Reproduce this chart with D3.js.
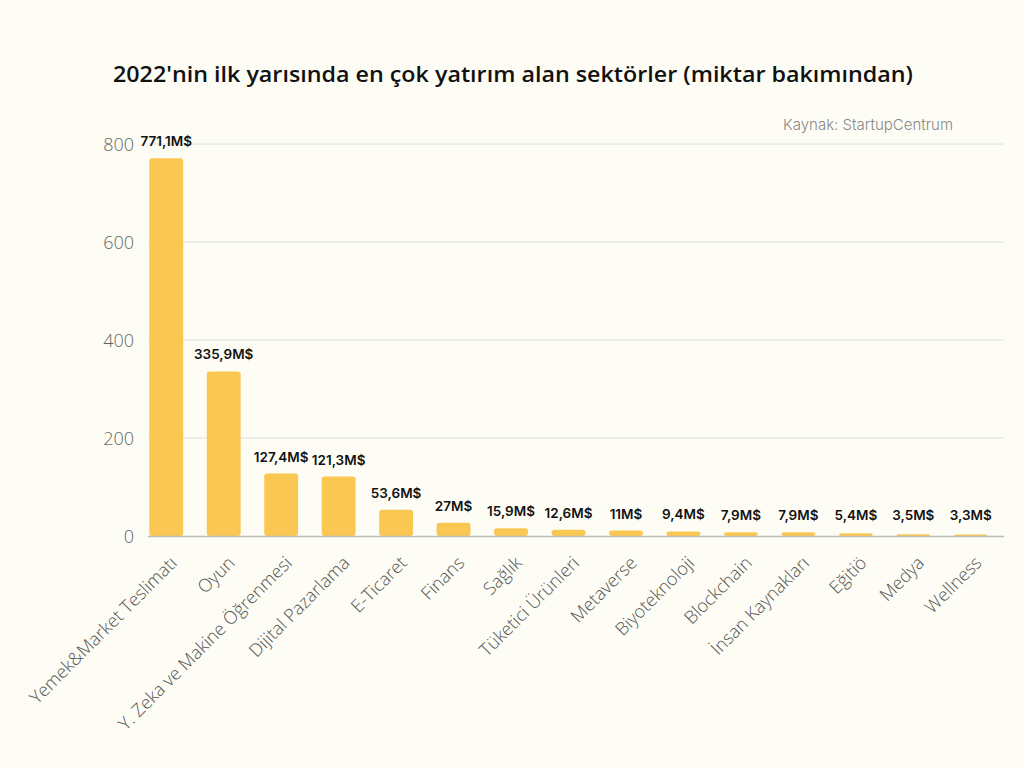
<!DOCTYPE html>
<html><head><meta charset="utf-8">
<script src="https://cdn.jsdelivr.net/npm/d3@7"></script>
<style>
html,body{margin:0;padding:0;background:#FDFDF5;}
svg{display:block;}
</style></head>
<body>
<svg id="chart" width="1024" height="768"></svg>
<script>
const categories = ["Yemek&Market Teslimatı","Oyun","Y. Zeka ve Makine Öğrenmesi","Dijital Pazarlama","E-Ticaret","Finans","Sağlık","Tüketici Ürünleri","Metaverse","Biyoteknoloji","Blockchain","İnsan Kaynakları","Eğitiö","Medya","Wellness"];
const values = [771.1,335.9,127.4,121.3,53.6,27,15.9,12.6,11,9.4,7.9,7.9,5.4,3.5,3.3];
const valueLabels = ["771,1M$","335,9M$","127,4M$","121,3M$","53,6M$","27M$","15,9M$","12,6M$","11M$","9,4M$","7,9M$","7,9M$","5,4M$","3,5M$","3,3M$"];
const yTicks = [0,200,400,600,800];
const title = "2022'nin ilk yarısında en çok yatırım alan sektörler (miktar bakımından)";
const source = "Kaynak: StartupCentrum";

const svg = d3.select("#chart");
const W = 1024, H = 768;
svg.append("rect").attr("width",W).attr("height",H).attr("fill","#FDFDF5");

const x = d3.scaleBand().domain(categories).range([137.5, 999.5]).paddingInner(0.41).paddingOuter(0.205);
const y = d3.scaleLinear().domain([0,800]).range([536,144]);

// gridlines
svg.append("g").selectAll("line").data(yTicks.filter(d=>d>0)).join("line")
  .attr("x1",148).attr("x2",1004)
  .attr("y1",d=>y(d)).attr("y2",d=>y(d))
  .attr("stroke","#dedede").attr("stroke-width",1);

// y axis labels
const yAxis = d3.axisLeft(y).tickValues(yTicks).tickSize(0).tickPadding(0).tickFormat(d3.format("d"));
const gy = svg.append("g").attr("transform","translate(134,0)").call(yAxis);
gy.select(".domain").remove();
gy.selectAll("text").attr("font-family","'Open Sans', sans-serif").attr("font-weight",300)
  .attr("font-size",18).attr("fill","#666").attr("dy","0.35em");

// bars
svg.append("g").selectAll("rect").data(values).join("rect")
  .attr("x",(d,i)=>x(categories[i]))
  .attr("width",x.bandwidth())
  .attr("y",d=>y(d))
  .attr("height",d=>Math.max(0,y(0)-y(d)))
  .attr("rx",3).attr("ry",3)
  .attr("fill","#F9C752");

// baseline
svg.append("line").attr("x1",148).attr("x2",1004).attr("y1",y(0)+0.5).attr("y2",y(0)+0.5)
  .attr("stroke","#bdbdbd").attr("stroke-width",1.5);

// value labels
svg.append("g").selectAll("text").data(values).join("text")
  .attr("x",(d,i)=>x(categories[i])+x.bandwidth()/2)
  .attr("y",d=>Math.min(y(d)-12, 520))
  .attr("text-anchor","middle")
  .attr("font-family","Inter, 'Open Sans', sans-serif").attr("font-weight",600)
  .attr("font-size",13.5).attr("fill","#111")
  .text((d,i)=>valueLabels[i]);

// x axis labels
const xAxis = d3.axisBottom(x).tickSize(0).tickPadding(0);
const gx = svg.append("g").attr("transform",`translate(0,${y(0)})`).call(xAxis);
gx.select(".domain").remove();
gx.selectAll("text")
  .attr("font-family","'Open Sans', sans-serif").attr("font-weight",300)
  .attr("font-size",18).attr("fill","#555")
  .attr("text-anchor","end").attr("dy",0).attr("y",0)
  .attr("transform","translate(12,28) rotate(-45)");

// title
svg.append("text").attr("x",513).attr("y",82).attr("text-anchor","middle")
  .attr("font-family","'Open Sans', sans-serif").attr("font-weight",600)
  .attr("font-size",21).attr("fill","#111")
  .attr("textLength",800).attr("lengthAdjust","spacingAndGlyphs")
  .text(title);

// source
svg.append("text").attr("x",953).attr("y",130).attr("text-anchor","end")
  .attr("font-family","Inter, sans-serif").attr("font-weight",300)
  .attr("font-size",15).attr("fill","#888")
  .text(source);
</script>
</body></html>
